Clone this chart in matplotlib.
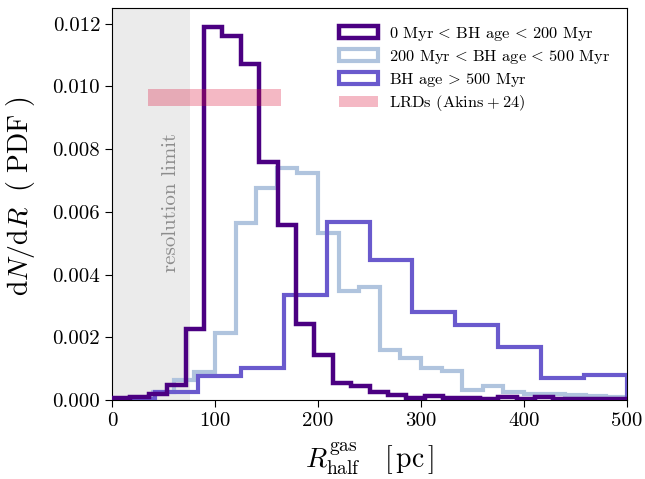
import numpy as np
import matplotlib
matplotlib.use("Agg")
import matplotlib.pyplot as plt
from matplotlib.ticker import FormatStrFormatter, MultipleLocator
from matplotlib.patches import Rectangle

plt.rcParams['font.family'] = 'serif'
plt.rcParams['font.serif'] = ['cmr10', 'DejaVu Serif']
plt.rcParams['mathtext.fontset'] = 'cm'
plt.rcParams['axes.unicode_minus'] = False

# ---- data ----
# 0 Myr < BH age < 200 Myr : 28 bins over 0-500 pc
young_edges = np.linspace(0, 500, 29)
young_pdf = [0.00005, 0.00010, 0.00020, 0.00048, 0.00227, 0.01191, 0.01162,
             0.01071, 0.00760, 0.00558, 0.00241, 0.00144, 0.00054, 0.00046,
             0.00025, 0.00015, 0.00005, 0.00012, 0.00006, 0.00006, 0.00004,
             0.00009, 0.00004, 0.00008, 0.00003, 0.00003, 0.00003, 0.00003]

# 200 Myr < BH age < 500 Myr : 25 bins over 0-500 pc
mid_edges = np.linspace(0, 500, 26)
mid_pdf = [0.0, 0.0, 0.00025, 0.00064, 0.00090, 0.00213, 0.00564, 0.00677,
           0.00739, 0.00724, 0.00532, 0.00348, 0.00361, 0.00158, 0.00133,
           0.00101, 0.00094, 0.00031, 0.00045, 0.00024, 0.00019, 0.00018,
           0.00016, 0.00013, 0.00010]

# BH age > 500 Myr : 12 bins over 0-500 pc
old_edges = np.linspace(0, 500, 13)
old_pdf = [0.00002, 0.00026, 0.00078, 0.00101, 0.00335, 0.00569, 0.00447,
           0.00280, 0.00239, 0.00170, 0.00069, 0.00080]

labels = [r"0 Myr$\,<\,$BH age$\,<\,$200 Myr",
          r"200 Myr$\,<\,$BH age$\,<\,$500 Myr",
          r"BH age$\,>\,$500 Myr",
          r"LRDs (Akins$\:+\:$24)"]
colors = ["#4B0082", "#B0C4DE", "#6A5ACD"]

resolution_limit = 76.0
lrd_x = [35, 164]
lrd_lo = 0.00937
lrd_hi = 0.00992

# ---- figure ----
fig = plt.figure(figsize=(6.45, 4.79), dpi=100)
ax = fig.add_axes([112/645, 1 - 400/479, (627-112)/645, (400-8)/479])

ax.axvspan(0, resolution_limit, color='0.92', lw=0, zorder=0)
ax.text(resolution_limit*0.75, 0.0063, "resolution limit", rotation=90,
        ha='center', va='center', color='0.55', fontsize=15)

ax.stairs(young_pdf, young_edges, color=colors[0], lw=3.2, baseline=0, zorder=4)
ax.stairs(mid_pdf, mid_edges, color=colors[1], lw=3.0, baseline=0, zorder=2)
ax.stairs(old_pdf, old_edges, color=colors[2], lw=3.0, baseline=0, zorder=3)
ax.fill_between(lrd_x, lrd_lo, lrd_hi, color='crimson', alpha=0.3, lw=0, zorder=5)

ax.set_xlim(0, 500)
ax.set_ylim(0, 0.0125)
ax.xaxis.set_major_locator(MultipleLocator(100))
ax.yaxis.set_major_locator(MultipleLocator(0.002))
ax.yaxis.set_major_formatter(FormatStrFormatter('%.3f'))
ax.tick_params(labelsize=15, direction='out', length=5)

ax.set_xlabel(r"$R_{\rm half}^{\rm gas}\quad[\,{\rm pc}\,]$", fontsize=20, labelpad=8)
ax.set_ylabel(r"${\rm d}N/{\rm d}R\ \ (\ {\rm PDF}\ )$", fontsize=20)
ax.yaxis.set_label_coords(-0.145, 0.52)

leg_handles = [Rectangle((0, 0), 1, 1, fill=False, ec=colors[0], lw=3.2),
               Rectangle((0, 0), 1, 1, fill=False, ec=colors[1], lw=3.0),
               Rectangle((0, 0), 1, 1, fill=False, ec=colors[2], lw=3.0),
               Rectangle((0, 0), 1, 1, fc='crimson', alpha=0.3, lw=0)]
ax.legend(leg_handles, labels, loc='upper right', frameon=False, fontsize=11.8,
          handlelength=2.35, handleheight=0.7, labelspacing=0.3, handletextpad=0.7,
          bbox_to_anchor=(0.997, 0.995))

fig.savefig("out.png", dpi=100)
